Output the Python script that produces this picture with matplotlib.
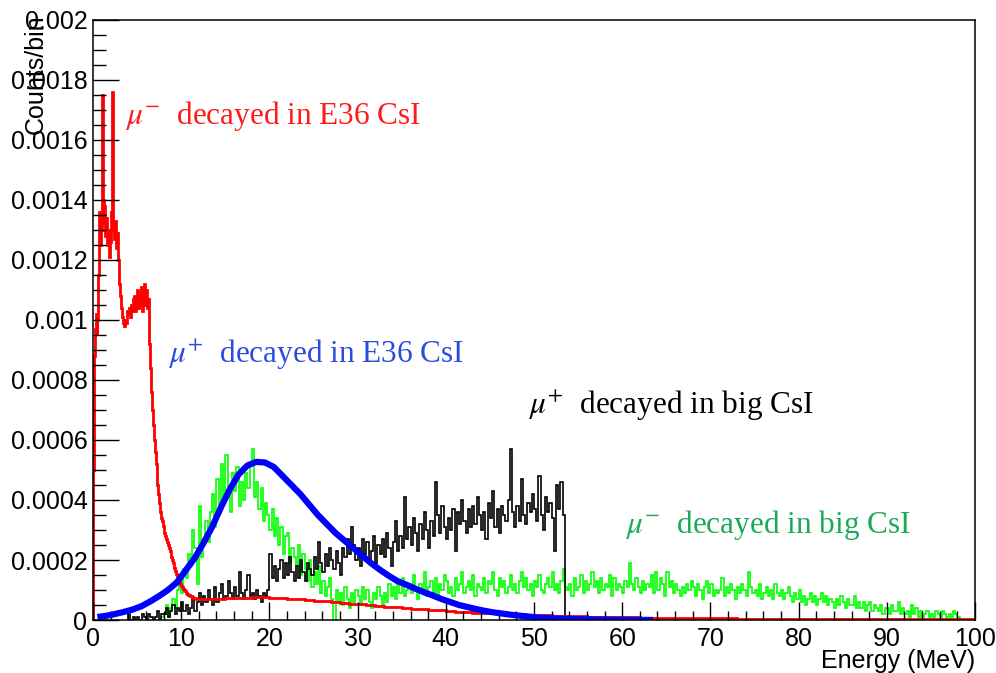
import numpy as np
import matplotlib.pyplot as plt
from matplotlib.ticker import MultipleLocator, FuncFormatter

# all counts in units of 1e-5 counts/bin
SCALE = 1e-5

# mu- decayed in E36 CsI : 0.1 MeV bins from 0 to 12 MeV, then 1 MeV bins to 100 MeV
red_fine = [
    50, 88, 97, 102, 95, 100, 115, 136, 125, 130,
    175, 140, 132, 138, 128, 134, 125, 130, 121, 126,
    136, 156, 176, 130, 127, 133, 124, 129, 120, 115,
    112, 108, 104, 101, 99, 98, 100, 99, 101, 103,
    102, 104, 101, 105, 103, 107, 104, 108, 103, 106,
    110, 104, 109, 105, 111, 106, 103, 109, 112, 105,
    110, 104, 107, 100, 92, 84, 76, 70, 65, 60,
    56, 52, 48, 45, 42, 39, 36, 34, 33, 31.5,
    30, 29, 28, 27, 26, 25, 24, 23, 22, 21,
    20, 19, 17.5, 16.5, 15.5, 14.8, 14, 13.3, 12.6, 12,
    11.4, 11, 10.5, 10.1, 9.8, 9.4, 9.1, 8.8, 8.5, 8.3,
    8.1, 7.9, 7.7, 7.5, 7.4, 7.3, 7.2, 7.1, 7.0, 7.0,
]
red_coarse = [
    6.9, 7.0, 7.1, 7.3, 7.4, 7.5, 7.6, 7.6, 7.5, 7.3,
    7.1, 6.9, 6.7, 6.4, 6.2, 6.0, 5.7, 5.5, 5.2, 5.0,
    4.7, 4.5, 4.2, 4.0, 3.8, 3.6, 3.4, 3.2, 3.0, 2.8,
    2.7, 2.5, 2.4, 2.2, 2.1, 2.0, 1.9, 1.8, 1.7, 1.6,
    1.5, 1.4, 1.3, 1.2, 1.15, 1.1, 1.0, 0.95, 0.9, 0.85,
    0.8, 0.76, 0.72, 0.68, 0.65, 0.62, 0.6, 0.58, 0.56, 0.54,
    0.52, 0.5, 0.48, 0.47, 0.45, 0.44, 0.42, 0.41, 0.4, 0.39,
    0.38, 0.37, 0.36, 0.35, 0.34, 0.33, 0.33, 0.32, 0.31, 0.3,
    0.3, 0.29, 0.28, 0.28, 0.27, 0.27, 0.26, 0.26,
]

# mu+ decayed in E36 CsI : 1 MeV bins from 0 MeV
blue = [
    1.0, 1.4, 2.0, 2.7, 3.5, 4.6, 6.2, 8.0, 10, 12.5,
    16.5, 20.5, 25.5, 31, 37.5, 43.5, 48.5, 51.5, 52.7, 52.5,
    51, 48, 45, 42, 38.5, 35, 32, 29, 26.5, 24,
    21.5, 19, 16.8, 14.8, 13, 11.8, 10.5, 9.3, 8.2, 7.0,
    6.0, 5.0, 4.3, 3.6, 3.0, 2.5, 2.1, 1.7, 1.4, 1.1,
    0.8, 0.65, 0.5, 0.4, 0.32, 0.25, 0.2, 0.15, 0.1, 0.08,
    0.05, 0.03, 0.02, 0,
]

# mu- decayed in big CsI : 0.25 MeV bins from 7.5 MeV
green_start = 7.5
green = [
    0, 1,
    2, 5, 1, 4,  7, 4, 10, 13,  9, 17, 14, 22,  18, 30, 24, 12,
    38, 21, 27, 33,  26, 36, 42, 31,  47, 38, 52, 41,  55, 44, 36, 49,
    43, 51, 38, 46,  40, 49, 44, 52,  57, 41, 46, 37,  44, 33, 39, 35,
    30, 37, 28, 34,  25, 31, 22, 28,  29, 19, 24, 21,  18, 25, 15, 22,
    17, 13, 20, 11,  16, 12, 18, 9,  13, 8, 11, 14,  7, 0, 10, 6,
    9, 5, 11, 7,  4, 9, 6, 10,  8, 5, 11, 7,  10, 6, 4, 9,
    7, 11, 8, 5,  9, 6, 12, 8,  11, 7, 13, 9,  14, 8, 10, 12,
    9, 15, 11, 7,  12, 10, 16, 8,  11, 13, 9, 14,  7, 12, 10, 15,
    13, 9, 11, 8,  14, 10, 12, 16,  9, 11, 13, 10,  15, 8, 12, 11,
    10, 14, 9, 13,  12, 16, 10, 8,  14, 11, 13, 9,  11, 15, 10, 12,
    9, 13, 16, 11,  14, 10, 12, 8,  13, 11, 15, 10,  9, 12, 14, 11,
    16, 10, 12, 9,  13, 17, 11, 10,  12, 8, 14, 10,  11, 15, 9, 13,
    10, 12, 16, 11,  13, 9, 14, 10,  12, 11, 15, 8,  14, 10, 12, 11,
    9, 13, 11, 19,  12, 10, 14, 11,  9, 13, 10, 12,  11, 15, 9, 16,
    10, 14, 12, 8,  16, 11, 13, 9,  12, 10, 8, 11,  9, 12, 10, 13,
    11, 8, 12, 10,  7, 11, 13, 9,  12, 8, 10, 9,  10, 14, 8, 11,
    9, 12, 10, 7,  11, 9, 12, 10,  8, 16, 11, 9,  10, 8, 12, 7,
    9, 11, 8, 10,  7, 12, 9, 8,  10, 7, 9, 11,  8, 6, 9, 7,
    10, 6, 8, 5,  7, 9, 6, 8,  5, 7, 9, 6,  8, 5, 7, 6,
    4, 7, 5, 8,  6, 4, 7, 5,  5, 8, 4, 6,  4, 6, 3, 5,
    6, 3, 5, 4,  3, 5, 2, 4,  4, 2, 5, 3,  3, 6, 2, 4,
    2, 3, 1, 5,  2, 4, 1, 3,  1, 2, 3, 1,  2, 1, 3, 2,
    1, 3, 2, 1,  2, 1, 3, 2,
    1,
]

# mu+ decayed in big CsI : 0.25 MeV bins from 3.75 MeV
black_start = 3.75
black = [
    0,
    3, 0, 1, 0,  1, 0, 2, 1,  0, 2, 1, 0,  1, 3, 0, 2,
    2, 4, 1, 3,  5, 2, 4, 3,  6, 3, 5, 2,  4, 7, 3, 6,
    9, 5, 8, 6,  10, 7, 5, 11,  6, 9, 12, 7,  8, 13, 9, 7,
    11, 8, 16, 9,  7, 10, 15, 8,  9, 7, 10, 8,  6, 9, 8, 10,
    22, 14, 18, 13,  17, 20, 14, 19,  15, 21, 16, 13,  18, 14, 20, 16,
    13, 19, 17, 15,  21, 17, 26, 19,  16, 22, 18, 24,  20, 17, 23, 19,
    15, 24, 21, 27,  22, 31, 25, 20,  24, 18, 27, 22,  26, 20, 23, 28,
    19, 25, 22, 27,  21, 29, 24, 18,  26, 33, 23, 28,  24, 41, 27, 31,
    25, 34, 29, 23,  32, 27, 36, 30,  24, 33, 28, 46,  35, 29, 38, 31,
    27, 34, 30, 37,  23, 36, 32, 40,  33, 29, 37, 31,  38, 32, 41, 35,
    30, 36, 27, 39,  34, 43, 31, 37,  29, 38, 35, 33,  40, 57, 36, 31,
    38, 33, 47, 35,  32, 39, 36, 42,  37, 33, 48, 35,  30, 41, 36, 39,
    34, 23, 45, 37,  46, 35,
]

labels = [r"$\mu^{-}$  decayed in E36 CsI", r"$\mu^{+}$  decayed in E36 CsI",
          r"$\mu^{+}$  decayed in big CsI", r"$\mu^{-}$  decayed in big CsI"]

plt.rcParams['font.family'] = ['Liberation Sans', 'DejaVu Sans']
plt.rcParams['mathtext.fontset'] = 'stix'

fig = plt.figure(figsize=(9.96, 6.73), dpi=100)
ax = fig.add_axes([93/996, 53/673, 882/996, 600/673])

# histograms, bottom to top
g_edges = green_start + 0.25 * np.arange(len(green) + 1)
ax.stairs(np.array(green) * SCALE, g_edges, color='#00ff00', lw=1.2, baseline=0)

b_edges = black_start + 0.25 * np.arange(len(black) + 1)
ax.stairs(np.array(black) * SCALE, b_edges, color='black', lw=1.2, baseline=0)

blue_x = np.arange(len(blue)) + 0.5
ax.plot(blue_x, np.array(blue) * SCALE, color='#0000ff', lw=4.5, solid_capstyle='butt')

red_vals = np.array(red_fine + red_coarse) * SCALE
red_edges = np.concatenate([0.1 * np.arange(len(red_fine)), 12 + np.arange(len(red_coarse) + 1)])
ax.stairs(red_vals, red_edges, color='#ff0000', lw=2.0, baseline=0)

ax.set_xlim(0, 100)
ax.set_ylim(0, 0.002)

ax.xaxis.set_major_locator(MultipleLocator(10))
ax.xaxis.set_minor_locator(MultipleLocator(2))
ax.yaxis.set_major_locator(MultipleLocator(0.0002))
ax.yaxis.set_minor_locator(MultipleLocator(0.00005))
ax.yaxis.set_major_formatter(FuncFormatter(lambda v, p: '%g' % round(v, 6)))

ax.tick_params(which='both', direction='in', top=False, right=False, width=1.0, labelsize=18)
ax.tick_params(axis='x', which='major', length=13, pad=5)
ax.tick_params(axis='x', which='minor', length=6.5)
ax.tick_params(axis='y', which='major', length=19, pad=4)
ax.tick_params(axis='y', which='minor', length=9.5)
for s in ax.spines.values():
    s.set_linewidth(1.1)

fig.text(975/996, 1 - 661/673, 'Energy (MeV)', ha='right', va='center', fontsize=18)
fig.text(36/996, 1 - 14/673, 'Counts/bin', ha='center', va='top', rotation=90, fontsize=18)

# labels
label_font = ['Liberation Serif', 'DejaVu Serif']
ax.text(3.6, 0.001653, labels[0], color='#ff1a1a', fontsize=22.5, family=label_font)
ax.text(8.5, 0.000857, labels[1], color='#2a4be0', fontsize=22.5, family=label_font)
ax.text(49.3, 0.000687, labels[2], color='black', fontsize=22.5, family=label_font)
ax.text(60.3, 0.00029, labels[3], color='#1aa955', fontsize=22.5, family=label_font)

fig.savefig('out.png', dpi=100)
